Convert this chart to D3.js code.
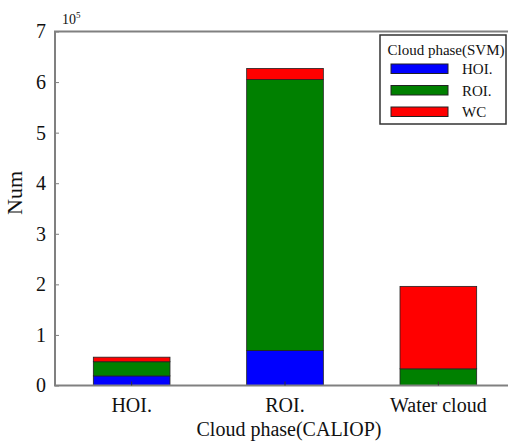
<!DOCTYPE html>
<html>
<head>
<meta charset="utf-8">
<script src="https://cdn.jsdelivr.net/npm/d3@7"></script>
<style>
  html, body { margin: 0; padding: 0; background: #fff; }
  svg { display: block; font-family: "Liberation Serif", "DejaVu Serif", serif; }
</style>
</head>
<body>
<svg id="chart" width="508" height="441"></svg>
<script>
// Data (units of 10^5)
const categories = ["HOI.", "ROI.", "Water cloud"];
const seriesNames = ["HOI.", "ROI.", "WC"];
const hoiValues = [0.19, 0.69, 0.0];
const roiValues = [0.28, 5.36, 0.33];
const wcValues  = [0.09, 0.22, 1.63];
const yTicks = [0, 1, 2, 3, 4, 5, 6, 7];
const colors = ["#0000ff", "#008000", "#ff0000"];

const rows = categories.map((c, i) => ({
  cat: c, "HOI.": hoiValues[i], "ROI.": roiValues[i], "WC": wcValues[i]
}));

const svg = d3.select("#chart");
const mLeft = 55, mRight = 515, mTop = 31.5, mBottom = 385.5;

const x = d3.scaleBand().domain(categories).range([mLeft, mRight]).paddingInner(0.5).paddingOuter(0.25);
const y = d3.scaleLinear().domain([0, 7]).range([mBottom, mTop]);

const stack = d3.stack().keys(seriesNames)(rows);

// bars
svg.append("g").selectAll("g").data(stack).join("g")
  .attr("fill", (d, i) => colors[i])
  .selectAll("rect").data(d => d).join("rect")
  .attr("x", d => x(d.data.cat))
  .attr("width", x.bandwidth())
  .attr("y", d => y(d[1]))
  .attr("height", d => Math.max(0, y(d[0]) - y(d[1])))
  .attr("stroke", "#222")
  .attr("stroke-width", 0.8);

// frame
const axisColor = "#808080";
svg.append("rect").attr("x", mLeft).attr("y", mTop).attr("width", mRight - mLeft).attr("height", mBottom - mTop)
  .attr("fill", "none").attr("stroke", axisColor).attr("stroke-width", 2);

// y axis
const yAxis = d3.axisLeft(y).tickValues(yTicks).tickSize(-4).tickPadding(9).tickFormat(d3.format("d"));
const gy = svg.append("g").attr("transform", `translate(${mLeft},0)`).call(yAxis);
gy.select(".domain").remove();
gy.selectAll(".tick line").attr("stroke", axisColor).attr("stroke-width", 1);
gy.selectAll(".tick text").attr("font-size", 20).attr("fill", "#111")
  .attr("font-family", "Liberation Serif, serif");

// x axis
const xAxis = d3.axisBottom(x).tickSize(-4).tickPadding(12);
const gx = svg.append("g").attr("transform", `translate(0,${mBottom})`).call(xAxis);
gx.select(".domain").remove();
gx.selectAll(".tick line").attr("stroke", "#333").attr("stroke-width", 1);
gx.selectAll(".tick text").attr("font-size", 20).attr("fill", "#111")
  .attr("font-family", "Liberation Serif, serif");

// exponent label
const exp = svg.append("text").attr("x", 62).attr("y", 24).attr("font-size", 14).attr("fill", "#111");
exp.append("tspan").text("10");
exp.append("tspan").attr("font-size", 9).attr("dy", -6).text("5");

// axis titles
svg.append("text").attr("x", 289).attr("y", 436).attr("text-anchor", "middle")
  .attr("font-size", 20).attr("fill", "#111").text("Cloud phase(CALIOP)");
svg.append("text").attr("transform", "translate(22,193) rotate(-90)").attr("text-anchor", "middle")
  .attr("font-size", 22).attr("fill", "#111").text("Num");

// legend
const lg = svg.append("g");
lg.append("rect").attr("x", 380).attr("y", 35).attr("width", 126).attr("height", 89)
  .attr("fill", "#fff").attr("stroke", "#333").attr("stroke-width", 1.5);
lg.append("text").attr("x", 446).attr("y", 55).attr("text-anchor", "middle")
  .attr("font-size", 15).attr("fill", "#111").text("Cloud phase(SVM)");
seriesNames.forEach((s, i) => {
  const yy = 64 + i * 21.5;
  lg.append("rect").attr("x", 391).attr("y", yy).attr("width", 57).attr("height", 9.5)
    .attr("fill", colors[i]).attr("stroke", "#222").attr("stroke-width", 1);
  lg.append("text").attr("x", 462).attr("y", yy + 10).attr("font-size", 15).attr("fill", "#111").text(s);
});
</script>
</body>
</html>
